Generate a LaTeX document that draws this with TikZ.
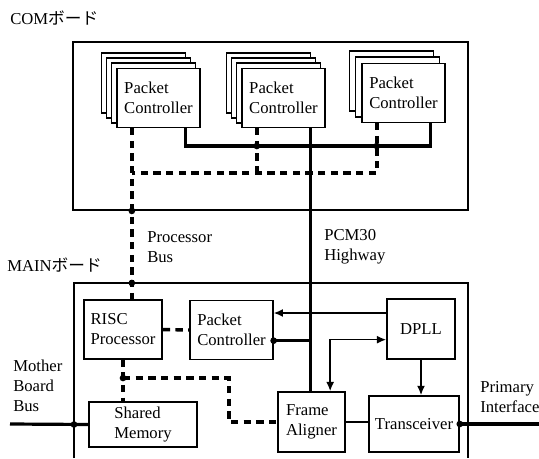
\documentclass[tikz,border=0pt]{standalone}
\usepackage{fontspec}
\setmainfont{Liberation Serif}
\newfontfamily\jpfont{Noto Sans CJK JP}
\usetikzlibrary{backgrounds,arrows.meta}

\tikzset{
  blk/.style={draw, fill=white, line width=1.2pt, align=left, inner sep=3pt},
  pcbox/.style={blk, minimum width=62pt, minimum height=44pt},
  layer/.style={draw, fill=white, line width=1.2pt},
  board/.style={draw, line width=1.4pt},
  bus/.style={line width=2.4pt},
  pbus/.style={line width=2.6pt, dash pattern=on 5.5pt off 4pt},
  sig/.style={line width=1.2pt},
  tip/.tip={Latex[length=7pt,width=6pt]},
  dot/.style={circle, fill, inner sep=0pt, minimum size=5pt},
  lbl/.style={align=left, inner sep=0pt},
}

\begin{document}
\begin{tikzpicture}[x=0.75pt,y=-0.75pt,font=\fontsize{12.5}{15}\selectfont]
  \useasboundingbox (0,0) rectangle (539,458);

  % boards
  \node[board, minimum width=296pt, minimum height=126pt] (com) at (270.5,126) {};
  \node[lbl, anchor=west] (comlbl) at (10,18) {COM{\jpfont ボード}};
  \draw[board] (74,458) |- (468,283) -- (468,458);
  \node[lbl, anchor=west] (mainlbl) at (7,265) {MAIN{\jpfont ボード}};

  \coordinate (mtop) at (0,283);
  \coordinate (mleft) at (74,0);
  \coordinate (busrow) at (0,146);
  \coordinate (dashrow) at (0,173);
  \coordinate (mrow) at (0,378);
  \coordinate (mcol) at (229,0);
  \coordinate (mbb) at (10,424);
  \coordinate (pif) at (539,424);

  % COM board
  \begin{scope}[every node/.style={pcbox}]
    \node (pc1) at (158.5,98) {Packet\\Controller};
    \node (pc2) at (283.5,98) {Packet\\Controller};
    \node (pc3) at (403.5,93) {Packet\\Controller};
  \end{scope}

  \begin{pgfonlayer}{background}
    \foreach \n/\m/\s in {pc1/3/5,pc2/3/5,pc3/2/6}
      \foreach \k in {\m,...,1}
        \draw[layer] ([shift={(-\s*\k,-\s*\k)}]\n.south west) rectangle ([shift={(-\s*\k,-\s*\k)}]\n.north east);
  \end{pgfonlayer}

  \coordinate (p1s) at ([xshift=20pt]pc1.south);
  \coordinate (p2s) at ([xshift=20pt]pc2.south);
  \coordinate (p3s) at ([xshift=20pt]pc3.south);
  \coordinate (p1d) at ([xshift=-20pt]pc1.south);
  \coordinate (p2d) at ([xshift=-20pt]pc2.south);
  \coordinate (p3d) at ([xshift=-20pt]pc3.south);

  % MAIN board
  \begin{scope}[every node/.style={blk}]
    \node[minimum width=58.5pt, minimum height=44pt] (risc) at (123,329.5) {RISC\\Processor};
    \node[pcbox] (pcm) at (231.5,330) {Packet\\Controller};
    \node[minimum width=51pt, minimum height=45pt, align=center] (dpll) at (421,329) {DPLL};
    \node[minimum width=50pt, minimum height=45pt] (fa) at (311.5,422) {Frame\\Aligner};
    \node[minimum width=67.5pt, minimum height=42pt, align=center] (trx) at (414,424) {Transceiver};
    \node[minimum width=81pt, minimum height=34pt] (shm) at (143,424.5) {Shared\\Memory};
  \end{scope}

  % buses
  \draw[bus] (p1s) |- (busrow -| p3s) -- (p3s);
  \draw[bus] (p2s) -- (p2s |- fa.north);
  \draw[pbus] (p3d) |- (dashrow -| p1d);
  \draw[pbus] (p2d) -- (p2d |- dashrow);
  \draw[pbus] (p1d) -- (p1d |- risc.north);

  \draw[pbus] (risc.east) -- (pcm.west);
  \draw[pbus] (risc.south) -- (risc.south |- shm.north);
  \draw[pbus] (risc.south |- mrow) -| (mcol |- fa.west) -- (fa.west);
  \draw[bus] ([yshift=-8pt]pcm.east) -- ([yshift=-8pt]pcm.east -| p2s);
  \draw[sig,-tip] ([yshift=12pt]dpll.west) -- ([yshift=12pt]dpll.west -| pcm.east);
  \draw[sig,tip-tip] ([yshift=-8pt]dpll.west) -| ([xshift=14pt]fa.north);
  \draw[sig,-tip] (dpll.south) -- (dpll.south |- trx.north);
  \draw[sig] (fa.east) -- (fa.east -| trx.west);
  \draw[bus] (mbb) -- (shm.west);
  \draw[bus] (trx.east) -- (trx.east -| pif);

  % junctions
  \node[dot] (d1) at (p1d |- com.south) {};
  \node[dot] (d2) at (p1d |- mtop) {};
  \node[dot] (d3) at (p2d |- busrow) {};
  \node[dot] (d4) at (p3d |- busrow) {};
  \node[dot] (d5) at (risc.south |- mrow) {};
  \node[dot] (d6) at (mleft |- shm.west) {};
  \node[dot] (d7) at ([yshift=-8pt]pcm.east) {};
  \node[dot] (d8) at (trx.east) {};

  % labels
  \node[lbl, anchor=west] (pbl) at (147,247) {Processor\\Bus};
  \node[lbl, anchor=west] (hwl) at (324,247) {PCM30\\Highway};
  \node[lbl, anchor=west] (mbl) at (13,386) {Mother\\Board\\Bus};
  \node[lbl, anchor=west] (pil) at (480,397) {Primary\\Interface};
\end{tikzpicture}
\end{document}
